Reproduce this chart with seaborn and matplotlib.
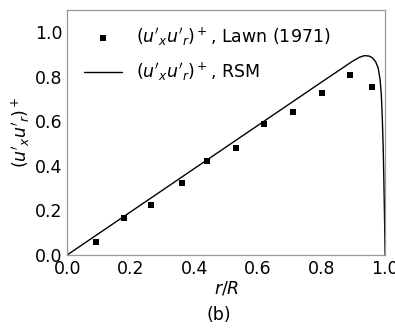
import matplotlib
matplotlib.use("Agg")
import matplotlib.pyplot as plt
import seaborn as sns
import pandas as pd

# Experimental data (Lawn 1971)
r_exp = [0.09, 0.18, 0.265, 0.36, 0.44, 0.53, 0.62, 0.71, 0.80, 0.89, 0.96]
uv_exp = [0.06, 0.165, 0.225, 0.325, 0.42, 0.48, 0.59, 0.64, 0.725, 0.81, 0.755]

# RSM curve
r_rsm = [0.0, 0.1, 0.2, 0.3, 0.4, 0.5, 0.6, 0.7, 0.8, 0.85, 0.88, 0.9, 0.92, 0.935,
         0.95, 0.96, 0.97, 0.978, 0.984, 0.988, 0.991, 0.994, 0.996, 0.998, 1.0]
uv_rsm = [0.0, 0.097, 0.194, 0.291, 0.388, 0.485, 0.582, 0.679, 0.776, 0.824, 0.853,
          0.872, 0.888, 0.895, 0.893, 0.885, 0.868, 0.84, 0.79, 0.72, 0.62, 0.48,
          0.34, 0.18, 0.0]

sns.set_style("white")
plt.rcParams['font.family'] = ['DejaVu Sans']
plt.rcParams['mathtext.fontset'] = 'dejavusans'
plt.rcParams['text.color'] = 'black'
plt.rcParams['axes.labelcolor'] = 'black'
plt.rcParams['xtick.color'] = 'black'
plt.rcParams['ytick.color'] = 'black'

fig = plt.figure(figsize=(3.95, 3.32), dpi=100)
ax = fig.add_axes([0.17, 0.232, 0.805, 0.738])

df_exp = pd.DataFrame({"r": r_exp, "uv": uv_exp})
df_rsm = pd.DataFrame({"r": r_rsm, "uv": uv_rsm})

sns.scatterplot(data=df_exp, x="r", y="uv", ax=ax, marker="s", color="black",
                s=22, edgecolor="black", linewidth=0,
                label=r"$(u'_xu'_r)^+$, Lawn (1971)")
sns.lineplot(data=df_rsm, x="r", y="uv", ax=ax, color="black", linewidth=1.0,
             label=r"$(u'_xu'_r)^+$, RSM", sort=False)

ax.set_xlim(0, 1.0)
ax.set_ylim(0, 1.1)
ax.set_xticks([0.0, 0.2, 0.4, 0.6, 0.8, 1.0])
ax.set_yticks([0.0, 0.2, 0.4, 0.6, 0.8, 1.0])
ax.tick_params(labelsize=12.5, length=1.5, color="#999999", width=0.8, pad=2)
for s in ax.spines.values():
    s.set_color("#999999")
    s.set_linewidth(0.9)

ax.set_xlabel(r"$r/R$", fontsize=12.5, labelpad=1)
ax.set_ylabel(r"$(u'_xu'_r)^+$", fontsize=12.5, labelpad=2)

leg = ax.legend(loc="upper left", frameon=False, fontsize=12.5,
                handlelength=2.2, handletextpad=0.8, labelspacing=0.75,
                borderaxespad=0.0, bbox_to_anchor=(0.03, 0.965))

fig.text(0.555, 0.052, "(b)", fontsize=12.5, ha="center", va="center")

fig.savefig("out.png", dpi=100)
